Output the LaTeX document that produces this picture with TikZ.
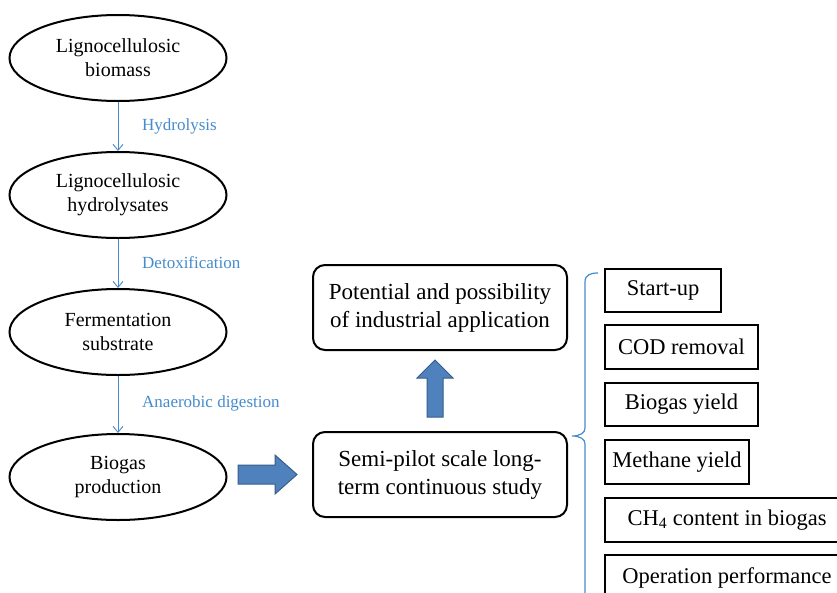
\documentclass[tikz,border=0pt]{standalone}
\usepackage{fontspec}
\setmainfont{Liberation Serif}
\usetikzlibrary{shapes.geometric,arrows.meta}
\definecolor{lblue}{RGB}{70,140,205}
\definecolor{afill}{RGB}{79,129,189}
\definecolor{aedge}{RGB}{56,93,138}
\begin{document}
\begin{tikzpicture}[x=1pt,y=-1pt,
 oval/.style={draw,line width=2pt,ellipse,minimum width=217pt,minimum height=86pt,inner sep=0pt,align=center,font=\fontsize{20}{24}\selectfont},
 rbox/.style={draw,line width=2pt,rounded corners=12pt,minimum width=254pt,minimum height=85pt,align=center,font=\fontsize{23}{28}\selectfont},
 sbox/.style={draw,line width=1.8pt,rectangle,inner sep=0pt,font=\fontsize{22.5}{27}\selectfont},
 lbl/.style={text=lblue,anchor=west,inner sep=0pt,font=\fontsize{17}{20}\selectfont},
 flow/.style={draw=lblue,line width=0.9pt,-{Straight Barb[length=6pt,width=10pt]}},
 blockarrow/.style={fill=afill,draw=aedge,line width=1pt,line join=miter},
 brace/.style={draw=lblue,line width=1.2pt}
]
\path[use as bounding box,clip] (0,0) rectangle (837,592);
\fill[white] (0,0) rectangle (837,592);

% left column
\node[oval] (e1) at (118,58) {Lignocellulosic\\biomass};
\node[oval] (e2) at (118,195) {Lignocellulosic\\hydrolysates};
\node[oval] (e3) at (118,332) {Fermentation\\substrate};
\node[oval] (e4) at (118,477) {Biogas\\production};

\draw[flow] (e1) -- (e2);
\draw[flow] (e2) -- (e3);
\draw[flow] (e3) -- (e4);

\node[lbl] (l1) at (142,126) {Hydrolysis};
\node[lbl] (l2) at (142,263) {Detoxification};
\node[lbl] (l3) at (142,403) {Anaerobic digestion};

% middle
\node[rbox] (pot) at (440,307.5) {Potential and possibility\\of industrial application};
\node[rbox] (semi) at (440,474.5) {Semi-pilot scale long-\\term continuous study};

% block arrows
\draw[blockarrow] (238,465) -- (275,465) -- (275,455) -- (297,474.5) -- (275,494) -- (275,484) -- (238,484) -- cycle;
\draw[blockarrow] (427,417) -- (427,378) -- (417,378) -- (435,360) -- (453,378) -- (443,378) -- (443,417) -- cycle;

% brace
\draw[brace] (598,273) .. controls (590,273) and (585,275) .. (585,282) -- (585,428)
  .. controls (585,433) and (580,436) .. (572,436)
  .. controls (580,436) and (585,439) .. (585,444) -- (585,600);

% right boxes
\node[sbox,minimum width=116pt,minimum height=43pt] (b1) at (663,290.5) {Start-up};
\node[sbox,minimum width=153pt,minimum height=44pt] (b2) at (681.5,347) {COD removal};
\node[sbox,minimum width=153pt,minimum height=43pt] (b3) at (681.5,404.5) {Biogas yield};
\node[sbox,minimum width=144pt,minimum height=44pt] (b4) at (677,462) {Methane yield};
\node[sbox,minimum width=244pt,minimum height=44pt] (b5) at (727,520) {CH\textsubscript{4} content in biogas};
\node[sbox,minimum width=244pt,minimum height=45pt] (b6) at (727,577.5) {Operation performance};
\end{tikzpicture}
\end{document}
